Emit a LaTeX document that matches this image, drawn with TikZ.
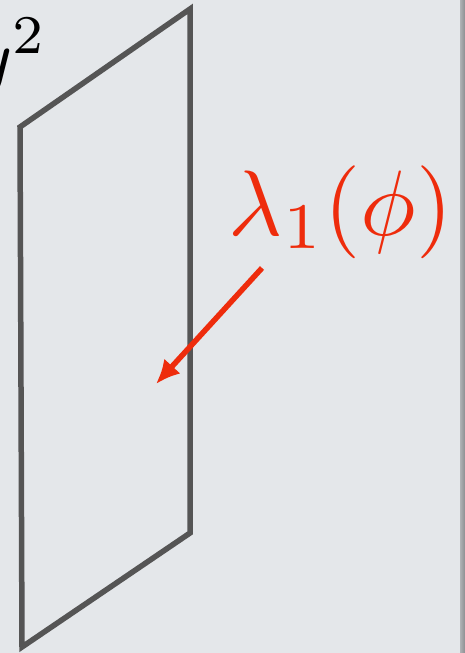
\documentclass[tikz,border=0pt]{standalone}
\usepackage{amsmath,amssymb}
\usetikzlibrary{arrows.meta,positioning}
\definecolor{SlideGray}{RGB}{228,231,234}
\definecolor{EdgeGray}{RGB}{140,142,145}
\definecolor{PlaneGray}{RGB}{85,85,85}
\definecolor{LabelRed}{RGB}{238,44,12}
\begin{document}
\begin{tikzpicture}[x=1pt,y=-1pt,>=Latex]
      \useasboundingbox (0,0) rectangle (465,653);
      \fill[SlideGray] (0,0) rectangle (465,653);
      \shade[left color=EdgeGray!60!SlideGray,right color=EdgeGray] (460,0) rectangle (465,653);
      % the plane
      \coordinate (tl) at (20,127);
      \coordinate (tr) at (190,9);
      \coordinate (br) at (190,533);
      \coordinate (bl) at (22,647);
      \draw[PlaneGray,line width=5.5pt,line join=miter] (tl)--(tr)--(br)--(bl)--cycle;
      \node[anchor=base east,inner sep=0,scale=7.8] (ysq) at (49,82) {$y^2$};
      % label and arrow
      \node[anchor=base west,inner sep=0,scale=9.3,LabelRed] (lam) at (227,235) {$\lambda_1(\phi)$};
      \coordinate (tail) at (262,268);
      \coordinate (head) at (156,384);
      \draw[->,LabelRed,line width=5.5pt,arrows={-Latex[length=24pt,width=22pt]}] (tail)--(head);
    \end{tikzpicture}
\end{document}
